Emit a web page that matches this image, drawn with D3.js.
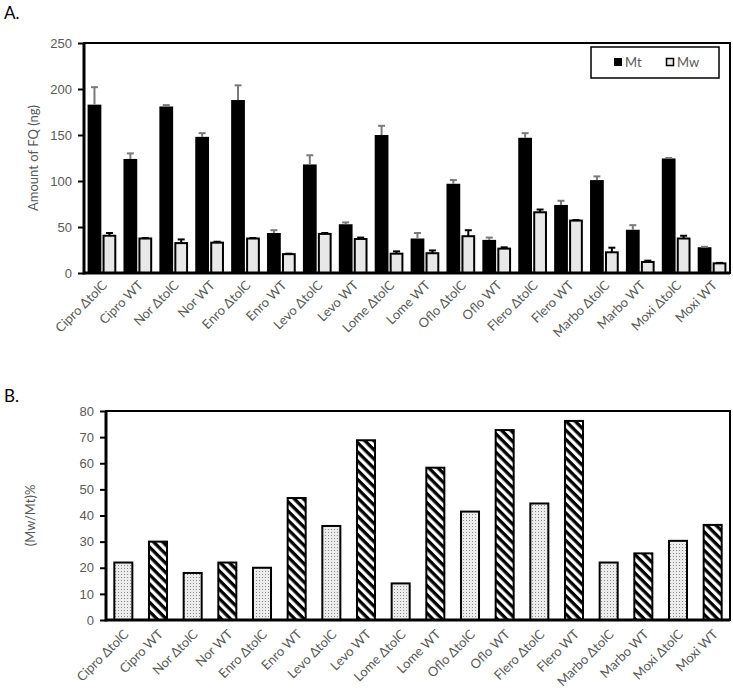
<!DOCTYPE html>
<html>
<head>
<meta charset="utf-8">
<script src="https://d3js.org/d3.v7.min.js"></script>
<style>
  body { margin: 0; background: #fff; }
  svg { display: block; font-family: Lato, "Open Sans", sans-serif; }
  .tick text { fill: #595959; font-size: 13px; }
  .cat { fill: #595959; font-size: 13px; }
</style>
</head>
<body>
<svg id="chart" width="733" height="693"></svg>
<script>
// categories shared by both panels
const categories = ['Cipro ΔtolC', 'Cipro WT', 'Nor ΔtolC', 'Nor WT', 'Enro ΔtolC', 'Enro WT',
    'Levo ΔtolC', 'Levo WT', 'Lome ΔtolC', 'Lome WT', 'Oflo ΔtolC', 'Oflo WT',
    'Flero ΔtolC', 'Flero WT', 'Marbo ΔtolC', 'Marbo WT', 'Moxi ΔtolC', 'Moxi WT'];

// panel A: amount of FQ (ng)
const mt = [183, 124, 181, 148, 188, 43.5, 118, 53, 150, 37.5, 97, 36, 147, 74, 101, 47, 124.5, 28];
const mtErr = [19, 6, 1.5, 4, 16, 3, 10, 2, 10, 6, 4, 2.5, 5, 4.5, 4, 5, 0.5, 0.5];
const mw = [40.5, 37.5, 32.5, 33, 37.5, 20.5, 42.5, 37, 21, 21.5, 40, 26.5, 66, 57, 22.5, 12, 37.5, 10.5];
const mwErr = [3, 0.5, 4, 1, 0.5, 0.5, 1, 1.5, 2.5, 3, 6.5, 1.4, 3, 0.5, 5, 1.4, 3, 0.5];
const ticksA = [0, 50, 100, 150, 200, 250];

// panel B: (Mw/Mt)%
const ratio = [22, 30, 18, 22, 20, 46.7, 36, 68.8, 14, 58.3, 41.5, 72.7, 44.6, 76.2, 22, 25.5, 30.3, 36.4];
const ticksB = [0, 10, 20, 30, 40, 50, 60, 70, 80];

const svg = d3.select('svg#chart');

// patterns for panel B
const defs = svg.append('defs');
const dots = defs.append('pattern').attr('id', 'dots')
    .attr('patternUnits', 'userSpaceOnUse').attr('width', 3).attr('height', 3);
dots.append('rect').attr('width', 3).attr('height', 3).attr('fill', '#ececec');
dots.append('rect').attr('x', 1).attr('y', 1).attr('width', 1).attr('height', 1).attr('fill', '#8a8a8a');

const stripes = defs.append('pattern').attr('id', 'stripes')
    .attr('patternUnits', 'userSpaceOnUse').attr('width', 6.5).attr('height', 6.5)
    .attr('patternTransform', 'rotate(45)');
stripes.append('rect').attr('width', 6.5).attr('height', 6.5).attr('fill', '#fff');
stripes.append('rect').attr('width', 6.5).attr('height', 3.3).attr('fill', '#000');

// panel letters
svg.append('text').attr('x', 4).attr('y', 19).attr('font-size', 17).text('A.');
svg.append('text').attr('x', 4).attr('y', 402).attr('font-size', 17).text('B.');

// ---------- panel A ----------
const A = { left: 84, right: 730, top: 43, bottom: 273 };
const xA = d3.scaleBand().domain(categories).range([A.left, A.right]).paddingInner(0.2).paddingOuter(0.1);
const yA = d3.scaleLinear().domain([0, 250]).range([A.bottom, A.top]);
const subA = d3.scaleBand().domain(['mt', 'mw']).range([0, xA.bandwidth()]).paddingInner(0.08);

const gA = svg.append('g');
gA.append('g').attr('transform', 'translate(' + A.left + ',0)')
    .call(d3.axisLeft(yA).tickValues(ticksA).tickSize(6).tickPadding(6))
    .call(g => g.select('.domain').remove())
    .call(g => g.selectAll('.tick line').attr('stroke', '#000').attr('stroke-width', 2));

const barsA = gA.selectAll('g.grp').data(categories).enter().append('g').classed('grp', true)
    .attr('transform', d => 'translate(' + xA(d) + ',0)');

barsA.append('rect')
    .attr('x', subA('mt')).attr('width', subA.bandwidth())
    .attr('y', (d, i) => yA(mt[i])).attr('height', (d, i) => yA(0) - yA(mt[i]))
    .attr('fill', '#000');
barsA.append('rect')
    .attr('x', subA('mw') + 1).attr('width', subA.bandwidth() - 2)
    .attr('y', (d, i) => yA(mw[i])).attr('height', (d, i) => yA(0) - yA(mw[i]))
    .attr('fill', '#e8e8e8').attr('stroke', '#000').attr('stroke-width', 2);

// error bars (upper half)
const errBar = (sel, key, vals, errs, color) => {
    const cx = subA(key) + subA.bandwidth() / 2;
    sel.append('line').attr('x1', cx).attr('x2', cx)
        .attr('y1', (d, i) => yA(vals[i])).attr('y2', (d, i) => yA(vals[i] + errs[i]))
        .attr('stroke', color).attr('stroke-width', 2);
    sel.append('line').attr('x1', cx - 3.5).attr('x2', cx + 3.5)
        .attr('y1', (d, i) => yA(vals[i] + errs[i])).attr('y2', (d, i) => yA(vals[i] + errs[i]))
        .attr('stroke', color).attr('stroke-width', 2);
};
errBar(barsA, 'mt', mt, mtErr, '#7a7a7a');
errBar(barsA, 'mw', mw, mwErr, '#000');

// frame
gA.append('rect').attr('x', A.left).attr('y', A.top).attr('width', A.right - A.left).attr('height', A.bottom - A.top)
    .attr('fill', 'none').attr('stroke', '#000').attr('stroke-width', 2);
gA.append('line').attr('x1', A.left).attr('x2', A.left).attr('y1', A.top).attr('y2', A.bottom + 1.5)
    .attr('stroke', '#000').attr('stroke-width', 3);
gA.append('line').attr('x1', A.left).attr('x2', A.right).attr('y1', A.bottom).attr('y2', A.bottom)
    .attr('stroke', '#000').attr('stroke-width', 3);

gA.append('text').attr('transform', 'translate(38,' + ((A.top + A.bottom) / 2) + ') rotate(-90)')
    .attr('text-anchor', 'middle').attr('fill', '#595959').attr('font-size', 13)
    .text('Amount of FQ (ng)');

gA.selectAll('text.cat').data(categories).enter().append('text').classed('cat', true)
    .attr('text-anchor', 'end')
    .attr('transform', d => 'translate(' + (xA(d) + xA.bandwidth() / 2 + 6) + ',' + (A.bottom + 13) + ') rotate(-45)')
    .text(d => d);

// legend
const leg = gA.append('g');
leg.append('rect').attr('x', 591).attr('y', 47).attr('width', 128).attr('height', 31)
    .attr('fill', '#fff').attr('stroke', '#000').attr('stroke-width', 1.5);
leg.append('rect').attr('x', 614).attr('y', 58).attr('width', 8).attr('height', 8).attr('fill', '#000');
leg.append('text').attr('x', 625).attr('y', 67).attr('font-size', 13).attr('fill', '#595959').text('Mt');
leg.append('rect').attr('x', 666.5).attr('y', 58.5).attr('width', 7).attr('height', 7)
    .attr('fill', '#e8e8e8').attr('stroke', '#000').attr('stroke-width', 1.5);
leg.append('text').attr('x', 677).attr('y', 67).attr('font-size', 13).attr('fill', '#595959').text('Mw');

// ---------- panel B ----------
const B = { left: 106, right: 730, top: 411, bottom: 620 };
const xB = d3.scaleBand().domain(categories).range([B.left, B.right]).paddingInner(0.48).paddingOuter(0.24);
const yB = d3.scaleLinear().domain([0, 80]).range([B.bottom, B.top]);

const gB = svg.append('g');
gB.append('g').attr('transform', 'translate(' + B.left + ',0)')
    .call(d3.axisLeft(yB).tickValues(ticksB).tickSize(6).tickPadding(6))
    .call(g => g.select('.domain').remove())
    .call(g => g.selectAll('.tick line').attr('stroke', '#000').attr('stroke-width', 2));

gB.selectAll('rect.bar').data(categories).enter().append('rect').classed('bar', true)
    .attr('x', d => xB(d)).attr('width', xB.bandwidth())
    .attr('y', (d, i) => yB(ratio[i])).attr('height', (d, i) => yB(0) - yB(ratio[i]))
    .attr('fill', (d, i) => i % 2 === 0 ? 'url(#dots)' : 'url(#stripes)')
    .attr('stroke', '#000').attr('stroke-width', 2);

gB.append('rect').attr('x', B.left).attr('y', B.top).attr('width', B.right - B.left).attr('height', B.bottom - B.top)
    .attr('fill', 'none').attr('stroke', '#000').attr('stroke-width', 2);
gB.append('line').attr('x1', B.left).attr('x2', B.left).attr('y1', B.top).attr('y2', B.bottom + 1.5)
    .attr('stroke', '#000').attr('stroke-width', 3);
gB.append('line').attr('x1', B.left).attr('x2', B.right).attr('y1', B.bottom).attr('y2', B.bottom)
    .attr('stroke', '#000').attr('stroke-width', 3);

gB.append('text').attr('transform', 'translate(35,' + ((B.top + B.bottom) / 2) + ') rotate(-90)')
    .attr('text-anchor', 'middle').attr('fill', '#595959').attr('font-size', 13)
    .text('(Mw/Mt)%');

gB.selectAll('text.cat').data(categories).enter().append('text').classed('cat', true)
    .attr('text-anchor', 'end')
    .attr('transform', d => 'translate(' + (xB(d) + xB.bandwidth() / 2 + 6) + ',' + (B.bottom + 15) + ') rotate(-45)')
    .text(d => d);
</script>
</body>
</html>
